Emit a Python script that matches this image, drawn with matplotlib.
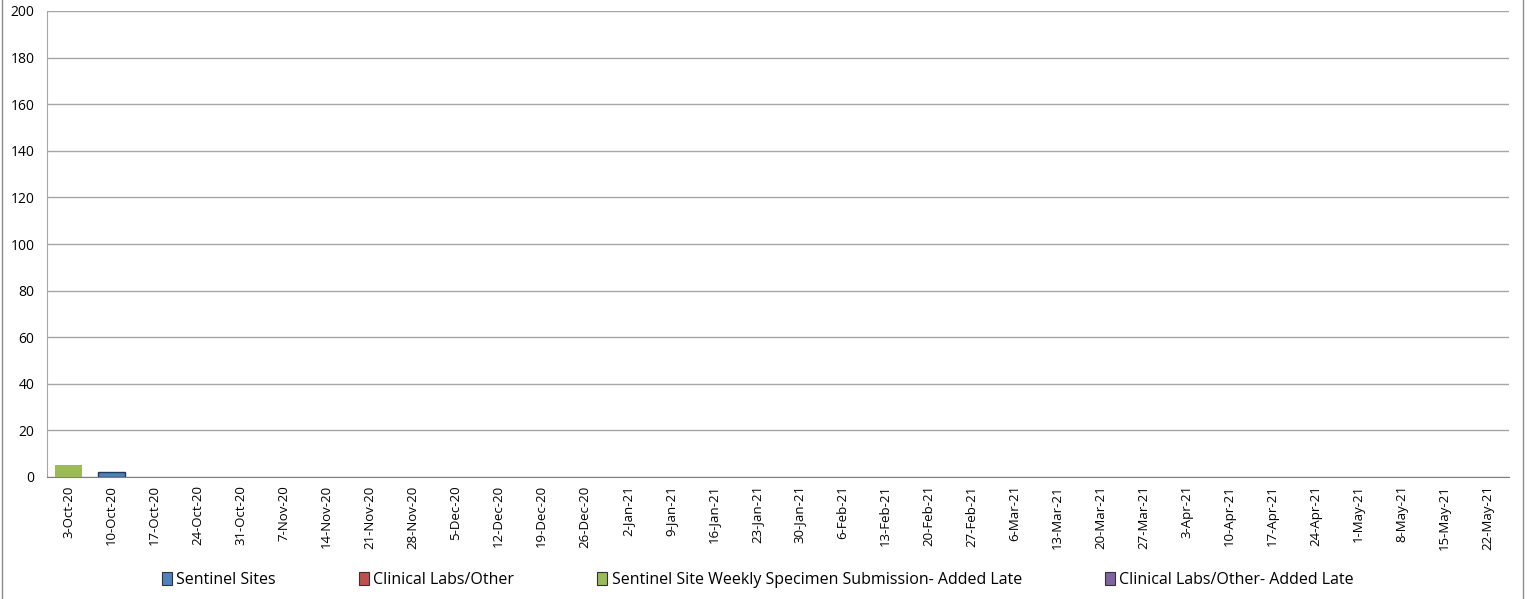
import matplotlib.pyplot as plt
from matplotlib.patches import Rectangle, Patch
import numpy as np

weeks = ["3-Oct-20", "10-Oct-20", "17-Oct-20", "24-Oct-20", "31-Oct-20", "7-Nov-20",
         "14-Nov-20", "21-Nov-20", "28-Nov-20", "5-Dec-20", "12-Dec-20", "19-Dec-20",
         "26-Dec-20", "2-Jan-21", "9-Jan-21", "16-Jan-21", "23-Jan-21", "30-Jan-21",
         "6-Feb-21", "13-Feb-21", "20-Feb-21", "27-Feb-21", "6-Mar-21", "13-Mar-21",
         "20-Mar-21", "27-Mar-21", "3-Apr-21", "10-Apr-21", "17-Apr-21", "24-Apr-21",
         "1-May-21", "8-May-21", "15-May-21", "22-May-21"]

n = len(weeks)
sentinel = [0, 2] + [0] * (n - 2)
clinical = [0] * n
sentinel_late = [5, 0] + [0] * (n - 2)
clinical_late = [0] * n

series = [
    ("Sentinel Sites", sentinel, "#4f81bd", "#1f3b5c"),
    ("Clinical Labs/Other", clinical, "#c0504d", "#5a1e1c"),
    ("Sentinel Site Weekly Specimen Submission- Added Late", sentinel_late, "#9bbb59", "none"),
    ("Clinical Labs/Other- Added Late", clinical_late, "#8064a2", "#3a2a50"),
]

plt.rcParams["font.family"] = ["Open Sans", "DejaVu Sans"]

fig = plt.figure(figsize=(15.28, 5.99), dpi=100)
ax = fig.add_axes([47 / 1528, 1 - 477 / 599, (1509 - 47) / 1528, (477 - 11) / 599])

x = np.arange(n)
bottom = np.zeros(n)
handles = []
for name, vals, color, edge in series:
    vals = np.array(vals, dtype=float)
    show = vals > 0  # skip empty weeks so no outline sits on the axis
    ax.bar(x[show], vals[show], width=0.65, bottom=bottom[show], color=color,
           edgecolor=edge, linewidth=1.0, zorder=3)
    bottom += vals
    handles.append(Patch(facecolor=color, edgecolor="#333333", linewidth=0.8, label=name))

ax.set_xlim(-0.5, n - 0.5)
ax.set_ylim(0, 200)
ax.set_yticks(range(0, 201, 20))
ax.set_xticks(x)
ax.set_xticklabels(weeks, rotation=90, fontsize=9.5)
ax.tick_params(axis="y", labelsize=10, length=0, pad=9)
ax.tick_params(axis="x", length=0, pad=6)
ax.yaxis.grid(True, color="#a6a6a6", linewidth=1)
ax.set_axisbelow(True)
for s in ["top", "right"]:
    ax.spines[s].set_visible(False)
ax.spines["left"].set_color("#a6a6a6")
ax.spines["bottom"].set_color("#7f7f7f")

fig.legend(handles=handles, loc="center", bbox_to_anchor=(758 / 1528, 1 - 580 / 599),
           ncol=4, frameon=False, fontsize=11.5, handlelength=0.6, handleheight=0.8,
           handletextpad=0.3, columnspacing=5.2)

fig.patches.append(Rectangle((2 / 1528, -0.01), (1523 - 2) / 1528, 1.1,
                             transform=fig.transFigure, fill=False,
                             edgecolor="#8c8c8c", linewidth=1))

fig.savefig("out.png", dpi=100)
